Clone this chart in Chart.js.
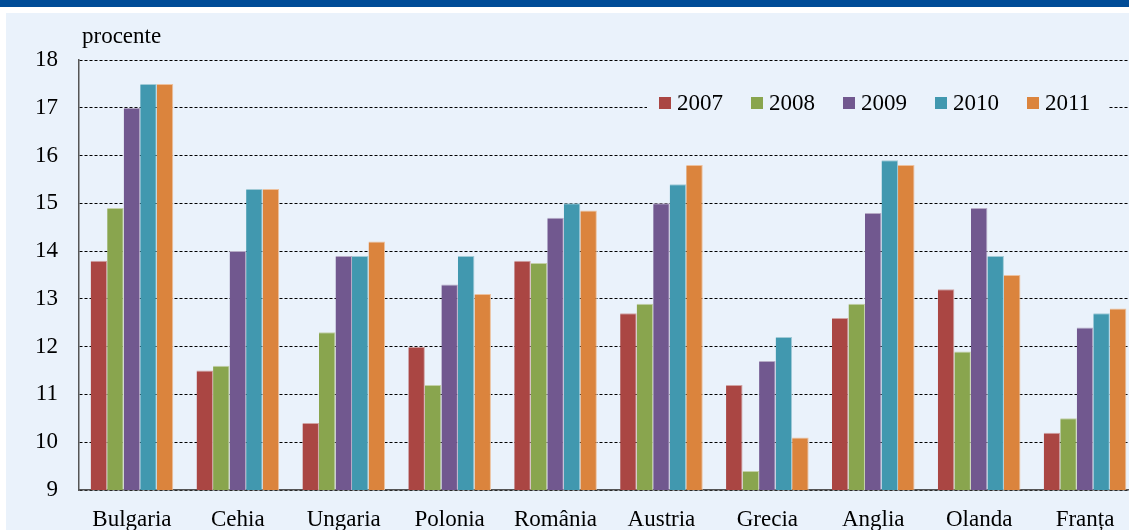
<!DOCTYPE html>
<html>
<head>
<meta charset="utf-8">
<script src="https://cdn.jsdelivr.net/npm/chart.js@4/dist/chart.umd.min.js"></script>
<style>
  html, body { margin: 0; padding: 0; background: #fff; overflow: hidden; }
  .topbar { position: absolute; left: 0; top: 0; width: 1129px; height: 7px; background: #004c97; }
  .panel { position: absolute; left: 6px; top: 13px; width: 1123px; height: 517px; background: #eaf2fb; }
  #wrap { position: absolute; left: 0; top: 0; width: 1140px; height: 530px; }
</style>
</head>
<body>
<div class="topbar"></div>
<div class="panel"></div>
<div id="wrap"><canvas id="myChart" width="1140" height="530"></canvas></div>
<script>
const tari = ['Bulgaria', 'Cehia', 'Ungaria', 'Polonia', 'România', 'Austria', 'Grecia', 'Anglia', 'Olanda', 'Franța'];
const ani = ['2007', '2008', '2009', '2010', '2011'];
const v2007 = [13.8, 11.5, 10.4, 12.0, 13.8, 12.7, 11.2, 12.6, 13.2, 10.2];
const v2008 = [14.9, 11.6, 12.3, 11.2, 13.75, 12.9, 9.4, 12.9, 11.9, 10.5];
const v2009 = [17.0, 14.0, 13.9, 13.3, 14.7, 15.0, 11.7, 14.8, 14.9, 12.4];
const v2010 = [17.5, 15.3, 13.9, 13.9, 15.0, 15.4, 12.2, 15.9, 13.9, 12.7];
const v2011 = [17.5, 15.3, 14.2, 13.1, 14.85, 15.8, 10.1, 15.8, 13.5, 12.8];
const culori = ['#aa4643', '#89a54e', '#71588f', '#4198af', '#db843d'];
const margini = ['#d0a3a3', '#c3d0a8', '#b6abc6', '#a0cad6', '#edc19e'];
const serii = [v2007, v2008, v2009, v2010, v2011];

const FONT = '"Liberation Serif", "Times New Roman", serif';

// legend + "procente" label drawn over the plot
const extras = {
  id: 'extras',
  afterDraw(chart) {
    const ctx = chart.ctx;
    ctx.save();
    ctx.font = '23px ' + FONT;
    ctx.fillStyle = '#000';
    ctx.textBaseline = 'alphabetic';
    ctx.textAlign = 'left';
    ctx.fillText('procente', 82, 43);

    ctx.fillStyle = '#eaf2fb';
    ctx.fillRect(647, 90, 462, 28);
    ctx.textBaseline = 'middle';
    chart.data.datasets.forEach((ds, i) => {
      const x = 659 + i * 92;
      ctx.fillStyle = ds.backgroundColor;
      ctx.fillRect(x, 97, 12, 12);
      ctx.fillStyle = '#000';
      ctx.fillText(ds.label, x + 18, 104);
    });
    ctx.restore();
  }
};

const data = {
  labels: tari,
  datasets: ani.map((an, i) => ({
    label: an,
    data: serii[i],
    backgroundColor: culori[i],
    borderColor: margini[i],
    borderWidth: 1,
    borderSkipped: 'left'
  }))
};

const config = {
  type: 'bar',
  data,
  options: {
    responsive: false,
    animation: false,
    categoryPercentage: 0.78,
    barPercentage: 1,
    layout: { padding: { top: 60, right: 2, left: 0, bottom: 0 } },
    plugins: {
      legend: { display: false },
      tooltip: { enabled: false }
    },
    scales: {
      x: {
        grid: { display: false },
        border: { display: true, color: '#555', width: 1.5 },
        ticks: { color: '#000', font: { family: FONT, size: 23 }, padding: 8, maxRotation: 0 },
        afterFit(scale) { scale.height = 40; }
      },
      y: {
        min: 9,
        max: 18,
        grid: { color: '#000', lineWidth: 1, drawTicks: false },
        border: { display: true, color: '#555', width: 1.5, dash: [3, 2] },
        ticks: { stepSize: 1, color: '#000', font: { family: FONT, size: 23 }, padding: 21 },
        afterFit(scale) { scale.width = 79; }
      }
    }
  },
  plugins: [extras]
};

const myChart = new Chart(document.getElementById('myChart'), config);
</script>
</body>
</html>
